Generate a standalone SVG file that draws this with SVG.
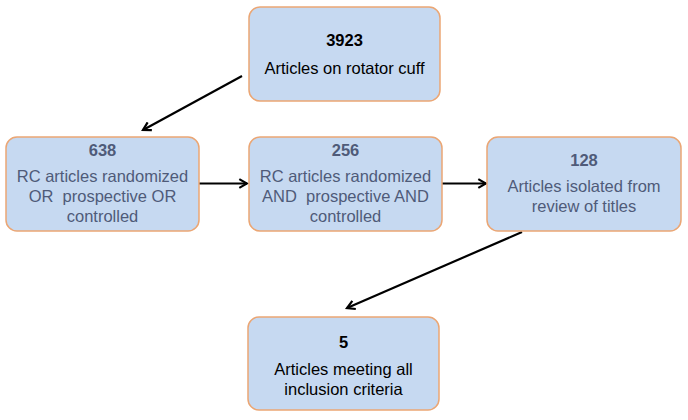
<svg xmlns="http://www.w3.org/2000/svg" width="688" height="420" viewBox="0 0 688 420">
<defs>
<style>
.box{fill:#c6d9f1;stroke:#eba674;stroke-width:1.5}
.t{font-family:"Liberation Sans",Arial,sans-serif;font-size:16.5px;text-anchor:middle}
.b{font-weight:bold}
.k{fill:#000}
.g{fill:#4f5b79}
.c{stroke:#000;stroke-width:2.2;fill:none;marker-end:url(#ah)}
</style>
<marker id="ah" viewBox="0 0 10 10" refX="8" refY="5" markerWidth="5" markerHeight="5" orient="auto" markerUnits="strokeWidth">
<path d="M1,1 L8,5 L1,9" fill="none" stroke="#000" stroke-width="2"/>
</marker>
</defs>
<rect width="688" height="420" fill="#fff"/>
<g id="connectors">
<line class="c" x1="242" y1="76" x2="143" y2="130"/>
<line class="c" x1="199" y1="183.5" x2="247" y2="183.5"/>
<line class="c" x1="442" y1="183.5" x2="486" y2="183.5"/>
<line class="c" x1="522" y1="232" x2="347" y2="308"/>
</g>
<g id="n3923">
<rect class="box" x="249" y="7" width="191" height="94" rx="11"/>
<text class="t b k" x="344.5" y="46">3923</text>
<text class="t k" x="344.5" y="74">Articles on rotator cuff</text>
</g>
<g id="n638">
<rect class="box" x="6" y="137" width="193" height="94" rx="11"/>
<text class="t b g" x="102.5" y="156">638</text>
<text class="t g" x="102.5" y="182">RC articles randomized</text>
<text class="t g" x="102.5" y="202" xml:space="preserve">OR  prospective OR</text>
<text class="t g" x="102.5" y="222">controlled</text>
</g>
<g id="n256">
<rect class="box" x="249" y="137" width="193" height="94" rx="11"/>
<text class="t b g" x="345.5" y="156">256</text>
<text class="t g" x="345.5" y="182">RC articles randomized</text>
<text class="t g" x="345.5" y="202" xml:space="preserve">AND  prospective AND</text>
<text class="t g" x="345.5" y="222">controlled</text>
</g>
<g id="n128">
<rect class="box" x="487" y="137" width="194" height="94" rx="11"/>
<text class="t b g" x="584" y="166">128</text>
<text class="t g" x="584" y="192">Articles isolated from</text>
<text class="t g" x="584" y="212">review of titles</text>
</g>
<g id="n5">
<rect class="box" x="248" y="317" width="191" height="93" rx="11"/>
<text class="t b k" x="343.5" y="348">5</text>
<text class="t k" x="343.5" y="375">Articles meeting all</text>
<text class="t k" x="343.5" y="395">inclusion criteria</text>
</g>
</svg>
